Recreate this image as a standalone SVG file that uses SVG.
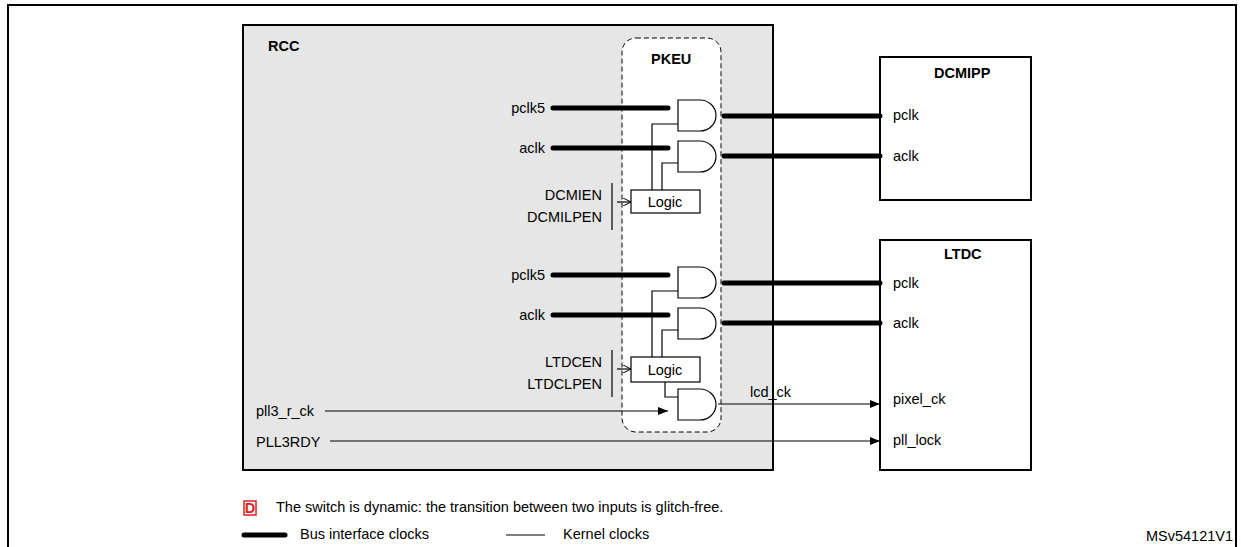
<svg xmlns="http://www.w3.org/2000/svg" width="1241" height="547" viewBox="0 0 1241 547">
<defs>
<style>
text{font-family:"Liberation Sans",Arial,sans-serif;font-size:14.5px;fill:#000}
.b{font-weight:bold}
.bus{stroke:#000;stroke-width:5;stroke-linecap:round;fill:none}
.k{stroke:#000;stroke-width:1.2;fill:none}
.gate{fill:#fff;stroke:#000;stroke-width:1.2}
.box{fill:#fff;stroke:#000;stroke-width:2}
</style>
<marker id="ar" markerWidth="10" markerHeight="8" refX="10" refY="4" orient="auto" markerUnits="userSpaceOnUse"><path d="M0,0L10,4L0,8z" fill="#000"/></marker>
<marker id="oa" markerWidth="8" markerHeight="8" refX="8" refY="4" orient="auto" markerUnits="userSpaceOnUse"><path d="M0,0L8,4L0,8" fill="none" stroke="#000"/></marker>
<symbol id="and" overflow="visible"><path class="gate" d="M0,0H22A16,15.5 0 0 1 22,31H0Z"/></symbol>
</defs>
<rect x="0" y="0" width="1241" height="547" fill="#fff"/>
<rect x="8" y="5" width="1228" height="560" fill="none" stroke="#000" stroke-width="2"/>
<g id="rcc"><rect x="243" y="25" width="530" height="445" fill="#e6e6e6" stroke="#000" stroke-width="2"/><text x="268" y="51" class="b" font-size="17">RCC</text></g>
<g id="pkeu"><rect x="622" y="38" width="99" height="394" rx="14" fill="#fff" stroke="#000" stroke-dasharray="5,3"/><text x="651" y="64" class="b" font-size="13">PKEU</text></g>
<g id="dcmipp"><rect class="box" x="880" y="57" width="151" height="143"/><text x="934" y="78" class="b" font-size="13">DCMIPP</text><text x="893" y="120">pclk</text><text x="893" y="161">aclk</text></g>
<g id="ltdc"><rect class="box" x="880" y="240" width="151" height="230"/><text x="944" y="259" class="b" font-size="13">LTDC</text><text x="893" y="288">pclk</text><text x="893" y="328">aclk</text><text x="893" y="404">pixel_ck</text><text x="893" y="445">pll_lock</text></g>
<g id="labels">
<text x="545" y="113" text-anchor="end">pclk5</text><text x="545" y="153" text-anchor="end">aclk</text>
<text x="602" y="200" text-anchor="end">DCMIEN</text><text x="602" y="222" text-anchor="end">DCMILPEN</text>
<text x="545" y="280" text-anchor="end">pclk5</text><text x="545" y="320" text-anchor="end">aclk</text>
<text x="602" y="367" text-anchor="end">LTDCEN</text><text x="602" y="389" text-anchor="end">LTDCLPEN</text>
<text x="256" y="416">pll3_r_ck</text><text x="256" y="447">PLL3RDY</text>
<text x="750" y="397">lcd_ck</text>
</g>
<g id="connectors">
<path class="bus" d="M553,108H668M553,148H668M553,275H668M553,315H668"/>
<path class="bus" d="M724,116H880M724,156H880M724,283H880M724,323H880"/>
<path class="k" d="M652,190V124H678M662,190V163H678M652,357V291H678M662,357V330H678M665,382V397H678"/>
<path class="k" d="M612,183V230M612,350V397"/>
<path class="k" d="M617,202H631" marker-end="url(#oa)"/><path class="k" d="M617,369H631" marker-end="url(#oa)"/>
<path class="k" d="M325,411H668" marker-end="url(#ar)"/>
<path class="k" d="M718,404H880" marker-end="url(#ar)"/>
<path class="k" d="M330,441H880" marker-end="url(#ar)"/>
</g>
<g id="gates">
<use href="#and" x="678" y="100"/><use href="#and" x="678" y="141"/>
<rect x="631" y="190" width="69" height="23" class="gate"/><text x="665" y="207" text-anchor="middle">Logic</text>
<use href="#and" x="678" y="267"/><use href="#and" x="678" y="308"/>
<rect x="631" y="357" width="69" height="25" class="gate"/><text x="665" y="375" text-anchor="middle">Logic</text>
<use href="#and" x="678" y="389"/>
</g>
<g id="legend">
<rect x="244" y="501" width="12" height="14" fill="#fff" stroke="#d22" stroke-width="1.5"/><text x="250" y="513" text-anchor="middle" class="b" font-size="11" style="fill:#d22">D</text>
<text x="276" y="512" font-size="14">The switch is dynamic: the transition between two inputs is glitch-free.</text>
<path class="bus" d="M244,535H285"/><text x="300" y="539" font-size="14">Bus interface clocks</text>
<path d="M506,535H545" stroke="#000" stroke-width="1.2"/><text x="563" y="539" font-size="14">Kernel clocks</text>
<text x="1233" y="541" text-anchor="end" font-size="14">MSv54121V1</text>
</g>
</svg>
